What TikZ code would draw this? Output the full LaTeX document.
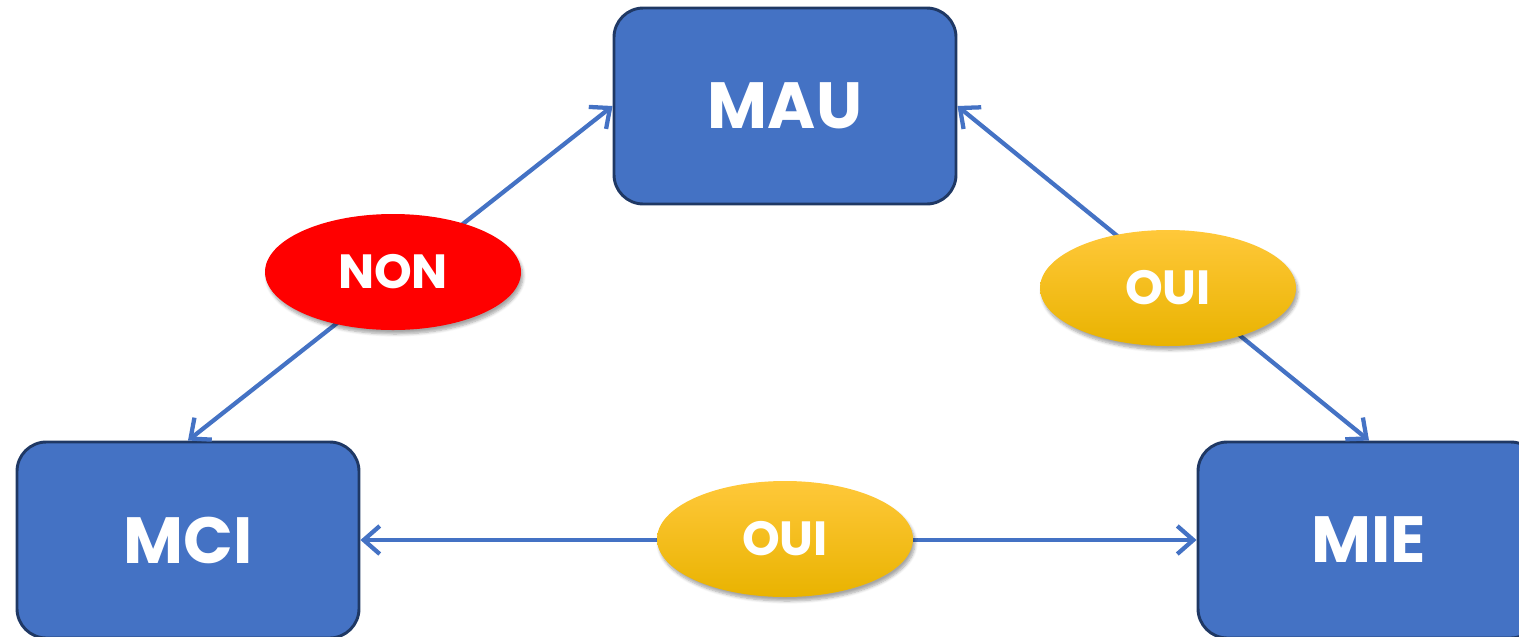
\documentclass[tikz,border=0pt]{standalone}
\usepackage{fontspec}
\setmainfont{Poppins}
\usetikzlibrary{arrows.meta,shapes.geometric,shadows.blur}
\definecolor{boxblue}{HTML}{4472C4}
\definecolor{boxedge}{HTML}{1F3864}
\definecolor{goldtop}{HTML}{FFC83A}
\definecolor{goldmid}{HTML}{FFC000}
\definecolor{goldbot}{HTML}{E9B300}
\tikzset{
  box/.style={draw=boxedge, line width=2.2pt, fill=boxblue, rounded corners=22pt,
    minimum width=256.5pt, minimum height=147pt, text=white,
    font=\fontsize{49}{49}\selectfont\bfseries, inner sep=0pt},
  oval/.style={ellipse, minimum width=192pt, minimum height=87pt, inner sep=0pt,
    text=white, font=\fontsize{36}{36}\selectfont\bfseries,
    blur shadow={shadow xshift=1.5pt, shadow yshift=-3pt, shadow blur steps=6, shadow opacity=35}},
  nonoval/.style={oval, fill=red},
  ouioval/.style={oval, top color=goldtop, middle color=goldmid, bottom color=goldbot},
  conn/.style={draw=boxblue, line width=3.2pt,
    {Straight Barb[length=12pt,width=21pt,line width=3.2pt]}-{Straight Barb[length=12pt,width=21pt,line width=3.2pt]}}
}
\begin{document}
\begin{tikzpicture}[x=0.75pt,y=-0.75pt]
\useasboundingbox (0,0) rectangle (1519,636);
\node[box] (mau) at (785,106) {MAU};
\node[box] (mci) at (188,540) {MCI};
\node[box] (mie) at (1369,540) {MIE};
\draw[conn] (mci.north) -- (mau.west);
\draw[conn] (mau.east) -- (mie.north);
\draw[conn] (mci.east) -- (mie.west);
\node[nonoval] (non) at (393,272) {NON};
\node[ouioval] (oui1) at (1168,288) {OUI};
\node[ouioval] (oui2) at (785,539) {OUI};
\end{tikzpicture}
\end{document}
